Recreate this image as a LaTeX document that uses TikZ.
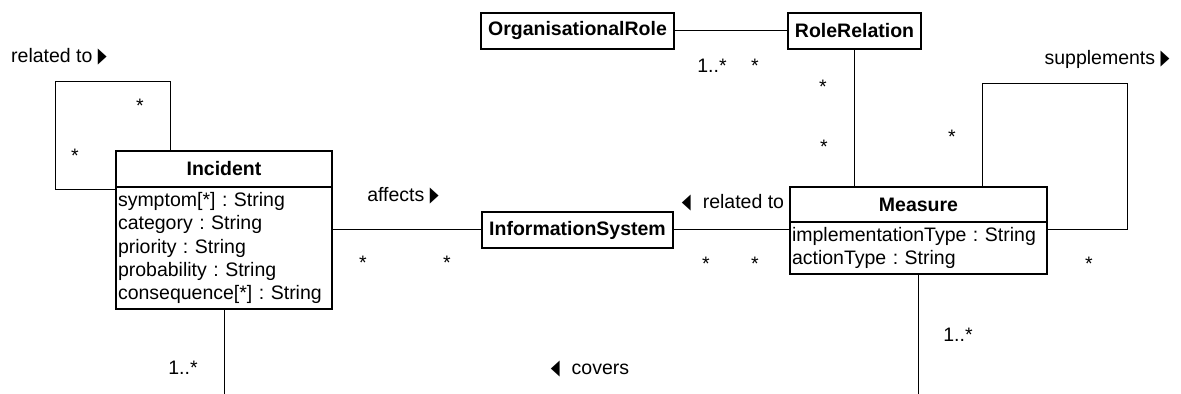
\documentclass[tikz,border=0pt]{standalone}
\usepackage{fontspec}
\setmainfont{Liberation Sans}
\newfontfamily\symfont{DejaVu Sans}
\usetikzlibrary{positioning}
\frenchspacing

% small direction marks of the association names
\newcommand{\rtri}{\scalebox{0.55}[1]{\fontsize{10.5}{12}\symfont ▶}}
\newcommand{\ltri}{\scalebox{0.55}[1]{\fontsize{10.5}{12}\symfont ◀}}

\tikzset{
  classhead/.style={draw, line width=1pt, minimum height=18pt, inner sep=0pt, outer sep=0pt,
    font=\fontsize{9.75}{11.65}\selectfont\bfseries},
  classattr/.style={draw, line width=1pt, align=left, inner xsep=1pt, inner ysep=2.7pt,
    outer sep=0pt, anchor=north, font=\fontsize{9.75}{11.65}\selectfont},
  assoc/.style={line width=0.5pt},
  mult/.style={anchor=base, inner sep=0pt, font=\fontsize{9.75}{11.65}\selectfont},
  assocname/.style={mult}
}

\begin{document}
\begin{tikzpicture}[x=0.5pt, y=-0.5pt]
    \useasboundingbox (0,0) rectangle (1181,394);

    % Classes
    \node[classhead, minimum width=108pt] (inc) at (224,169) {Incident};
    \node[classattr, below=0pt of inc, text width=106pt, minimum height=61pt] (incattr)
      {symptom[*] : String\\ category : String\\ priority : String\\ probability : String\\ consequence[*] : String};
    \node[classhead, minimum width=95.5pt] (infosys) at (577.5,230) {InformationSystem};
    \node[classhead, minimum width=96.5pt] (orgrole) at (577.5,31) {OrganisationalRole};
    \node[classhead, minimum width=66.5pt] (rolerel) at (854.5,31) {RoleRelation};
    \node[classhead, minimum width=128.5pt, minimum height=17.5pt] (measure) at (918.5,204.5) {Measure};
    \node[classattr, below=0pt of measure, text width=126.5pt, minimum height=26pt] (meaattr)
      {implementationType : String\\ actionType : String};

    % Loop corners and lower ends
    \coordinate (incloop) at (55,82);
    \coordinate (mealoop) at (1127,84);
    \coordinate (covlow) at (0,394);

    % Associations
    \draw[assoc] (orgrole) -- (rolerel);
    \draw[assoc] (rolerel) -- (rolerel.south |- measure.north);
    \draw[assoc] (infosys) -- (infosys.west -| incattr.east);
    \draw[assoc] (infosys) -- (infosys.east -| meaattr.west);
    \draw[assoc] ([xshift=-27pt]inc.north) |- (incloop) |- ([yshift=-1.5pt]incattr.north west);
    \draw[assoc] ([xshift=31.75pt]measure.north) |- (mealoop) |- ([yshift=-4pt]meaattr.north east);
    \draw[assoc] (incattr) -- (incattr.south |- covlow);
    \draw[assoc] (meaattr) -- (meaattr.south |- covlow);

    % Association names
    \node[assocname] (increl) at (59,63) {related to \rtri};
    \node[assocname] (affects) at (403,202) {affects \rtri};
    \node[assocname] (mearel) at (733,209) {\ltri\hspace{6pt}related to};
    \node[assocname] (supp) at (1107,65) {supplements \rtri};
    \node[assocname] (covers) at (590,375) {\ltri\hspace{6pt}covers};

    % Multiplicities
    \node[mult] (incm1) at (140,113) {*};
    \node[mult] (incm2) at (75,163) {*};
    \node[mult] (affm1) at (363,270) {*};
    \node[mult] (affm2) at (447,270) {*};
    \node[mult] (relm1) at (706,271) {*};
    \node[mult] (relm2) at (755,271) {*};
    \node[mult] (rolem1) at (712,73) {1..*};
    \node[mult] (rolem2) at (755,73) {*};
    \node[mult] (rolem3) at (823,94) {*};
    \node[mult] (rolem4) at (824,154) {*};
    \node[mult] (suppm1) at (952,144) {*};
    \node[mult] (suppm2) at (1089,271) {*};
    \node[mult] (covm1) at (183,375) {1..*};
    \node[mult] (covm2) at (958,342) {1..*};
\end{tikzpicture}
\end{document}
